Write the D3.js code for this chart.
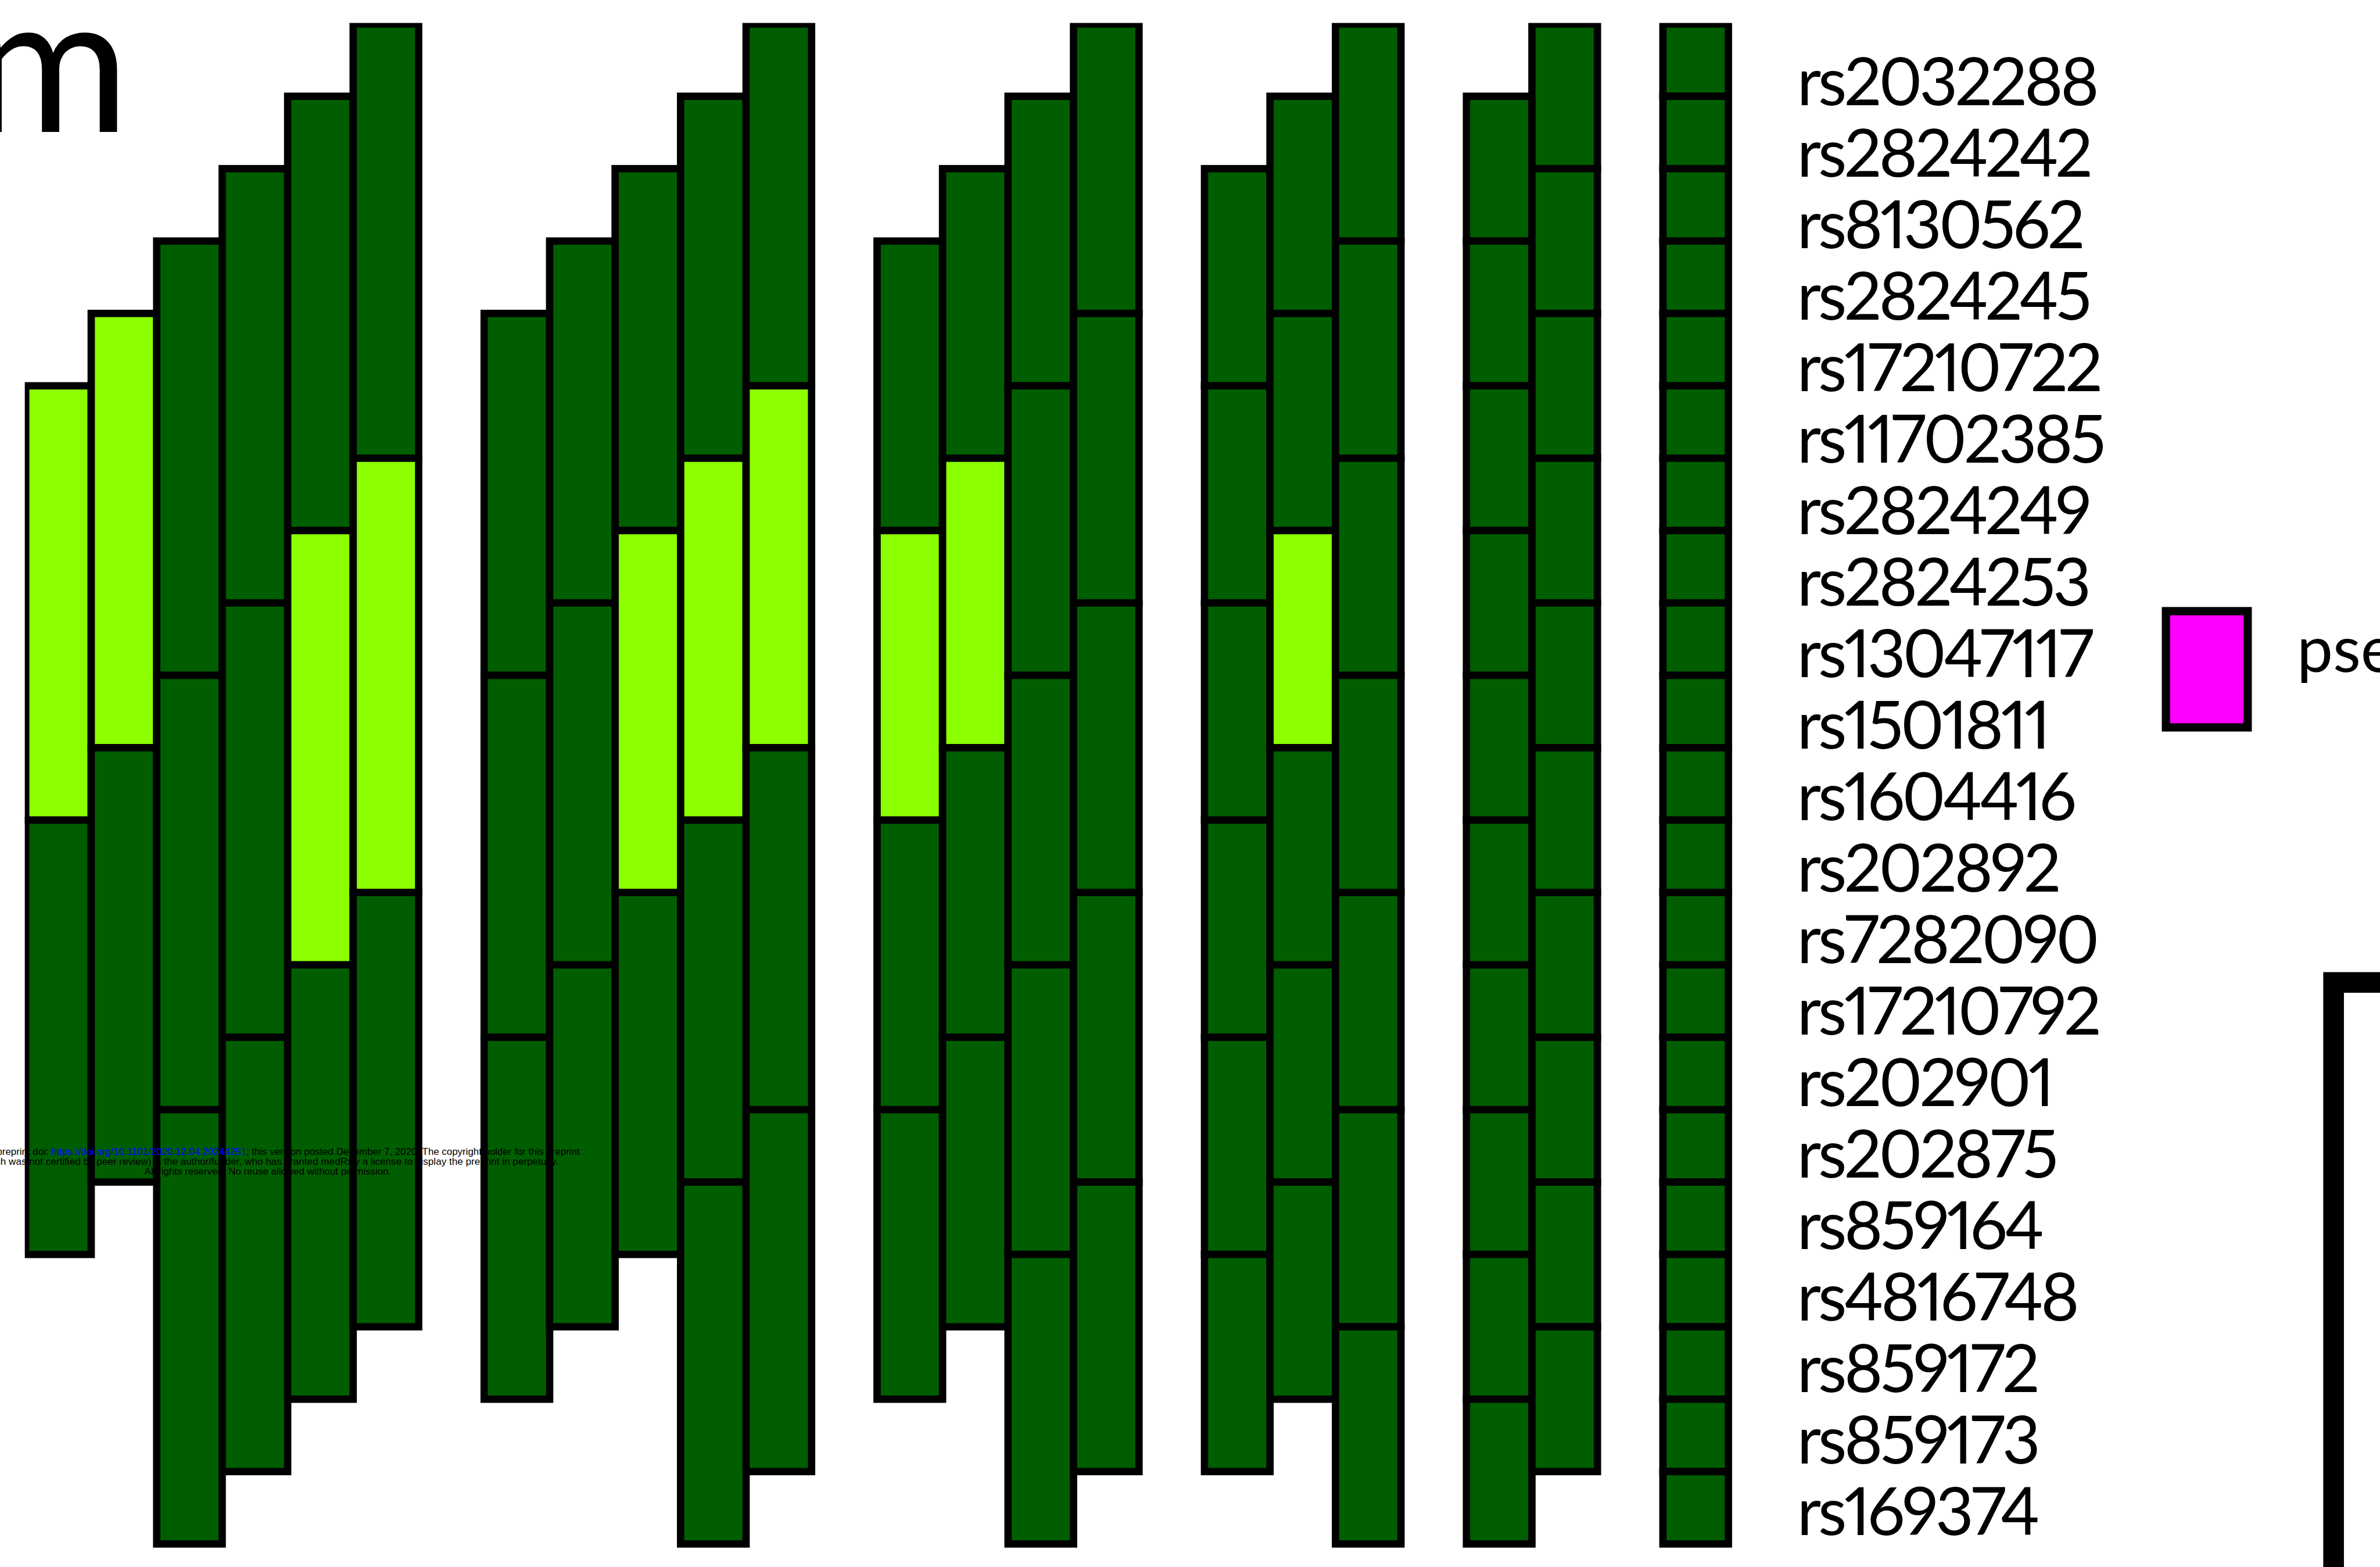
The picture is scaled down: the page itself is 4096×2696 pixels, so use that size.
<!DOCTYPE html>
<html>
<head>
<meta charset="utf-8">
<script src="https://d3js.org/d3.v7.min.js"></script>
<style>
html, body { margin: 0; padding: 0; background: #fff; overflow: hidden; }
svg { display: block; }
.snp { font-variant-numeric: proportional-nums; font-feature-settings: "pnum" 1; }
</style>
</head>
<body>
<div id="plot"></div>
<script>
// SNPs, top to bottom
var snps = ["rs2032288", "rs2824242", "rs8130562", "rs2824245", "rs17210722",
  "rs11702385", "rs2824249", "rs2824253", "rs13047117", "rs1501811", "rs1604416",
  "rs202892", "rs7282090", "rs17210792", "rs202901", "rs202875", "rs859164",
  "rs4816748", "rs859172", "rs859173", "rs169374"];

// sliding window sizes, one group of columns each
var windowSizes = [6, 5, 4, 3, 2, 1];

// highlighted windows: [window size, first snp index]
var highlighted = [[6, 4], [6, 5], [6, 6], [6, 7], [5, 5], [5, 6], [5, 7], [4, 6], [4, 7], [3, 7]];

var legendLabels = ["pseudogene"];
var titleText = "m";
var watermark = [
  ["medRxiv preprint doi: ", "https://doi.org/10.1101/2020.12.04.20244251", "; this version posted December 7, 2020. The copyright holder for this preprint"],
  ["(which was not certified by peer review) is the author/funder, who has granted medRxiv a license to display the preprint in perpetuity."],
  ["All rights reserved. No reuse allowed without permission."]
];

var W = 4096, H = 2696;
var s = W / 5181; // reference -> window

var svg = d3.select("#plot").append("svg").attr("width", W).attr("height", H);
var root = svg.append("g").attr("transform", "scale(" + s + ")");

var dark = "#005e00", light = "#8cff00";

// one slot per column plus one empty slot between groups
var nSlots = d3.sum(windowSizes) + windowSizes.length - 1;
var xScale = d3.scaleLinear().domain([0, nSlots + 1]).range([56, 56 + (nSlots + 1) * 142.56]);
var yScale = d3.scaleLinear().domain([0, snps.length]).range([52, 3360]);
var labelY = d3.scalePoint().domain(snps).range([229, 3341]);

var isLight = {};
highlighted.forEach(function (h) { isLight[h[0] + ":" + h[1]] = true; });

var blocks = [];
var slot = 0;
windowSizes.forEach(function (k) {
  for (var j = 0; j < k; j++) {
    var offset = k - 1 - j;
    for (var start = offset; start + k <= snps.length; start += k) {
      blocks.push({ slot: slot + j, start: start, size: k, light: !!isLight[k + ":" + start] });
    }
  }
  slot += k + 1;
});

root.append("clipPath").attr("id", "gridclip")
  .append("rect").attr("x", 54).attr("y", 50).attr("width", 5000).attr("height", 4000);

root.append("g").attr("clip-path", "url(#gridclip)")
  .selectAll("rect").data(blocks).enter().append("rect")
  .attr("x", function (d) { return xScale(d.slot); })
  .attr("y", function (d) { return yScale(d.start); })
  .attr("width", function (d) { return xScale(d.slot + 1) - xScale(d.slot); })
  .attr("height", function (d) { return yScale(d.start + d.size) - yScale(d.start); })
  .style("fill", function (d) { return d.light ? light : dark; })
  .style("stroke", "#000")
  .style("stroke-width", 16);

// snp labels
root.append("g").selectAll("text").data(snps).enter().append("text")
  .attr("class", "snp")
  .attr("x", 3912).attr("y", function (d) { return labelY(d); })
  .style("font-family", "Lato, 'Open Sans', sans-serif")
  .style("font-size", "144px")
  .style("letter-spacing", "-6px")
  .style("fill", "#000")
  .text(function (d) { return d; });

// cut-off title letter
root.append("text").attr("x", 282).attr("y", 287)
  .attr("text-anchor", "end")
  .style("font-family", "Lato, sans-serif").style("font-size", "420px")
  .text(titleText);

// legend
var legend = root.append("g").selectAll("g").data(legendLabels).enter().append("g");
legend.append("rect").attr("x", 4715).attr("y", 1330).attr("width", 178).attr("height", 253)
  .style("fill", "#ff00ff").style("stroke", "#000").style("stroke-width", 18);
legend.append("text").attr("x", 5000).attr("y", 1462)
  .style("font-family", "Lato, sans-serif").style("font-size", "140px")
  .text(function (d) { return d; });

// bracket at the lower right edge
root.append("path").attr("d", "M5080,3500 L5080,2138 L5300,2138")
  .style("fill", "none").style("stroke", "#000").style("stroke-width", 45);

// preprint watermark
var wmBase = [2513, 2535, 2556];
var wmLen = [1358, 1265, 537];
watermark.forEach(function (parts, i) {
  var t = root.append("text").attr("x", 583).attr("y", wmBase[i])
    .attr("text-anchor", "middle")
    .attr("textLength", wmLen[i]).attr("lengthAdjust", "spacingAndGlyphs")
    .style("font-family", "'Liberation Sans', Arial, sans-serif")
    .style("font-size", "21px");
  parts.forEach(function (p, j) {
    t.append("tspan").style("fill", parts.length > 1 && j === 1 ? "#0000ff" : "#000").text(p);
  });
});
</script>
</body>
</html>
